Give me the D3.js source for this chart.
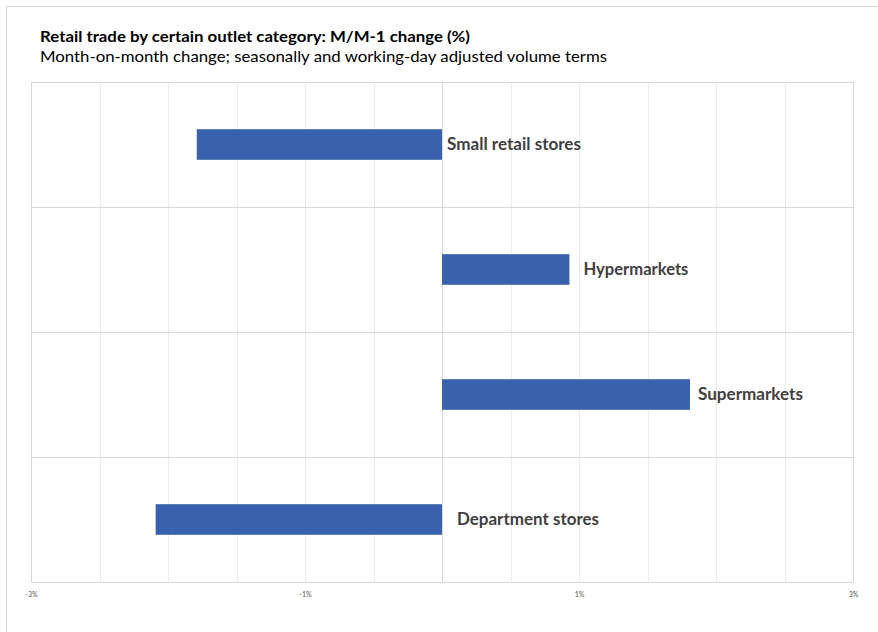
<!DOCTYPE html>
<html>
<head>
<meta charset="utf-8">
<script src="https://cdn.jsdelivr.net/npm/d3@7"></script>
<style>
  html, body { margin: 0; padding: 0; background: #fff; }
  svg { display: block; }
</style>
</head>
<body>
<svg id="chart" width="878" height="632"></svg>
<script>
// ---- data ----
const categories = ["Small retail stores", "Hypermarkets", "Supermarkets", "Department stores"];
const values = [-1.79, 0.93, 1.81, -2.09];
const tickValues = [-3, -1, 1, 3];
const tickLabels = ["-3%", "-1%", "1%", "3%"];
const gridValues = [-3, -2.5, -2, -1.5, -1, -0.5, 0, 0.5, 1, 1.5, 2, 2.5, 3];
const titleText = "Retail trade by certain outlet category: M/M-1 change (%)";
const subtitleText = "Month-on-month change; seasonally and working-day adjusted volume terms";

// ---- layout ----
const svg = d3.select("#chart");
const plot = { left: 31, right: 853, top: 82, bottom: 582 };
const labelDx = [5, 14, 8, 15];
const labelWidths = [134, 105, 105, 142];
const barColor = "#3A62AC";
const gridColor = "#D9D9D9";
const font = "Lato, 'Open Sans', 'Liberation Sans', sans-serif";

// outer frame
svg.append("rect")
  .attr("x", 6.5).attr("y", 6.5).attr("width", 900).attr("height", 700)
  .attr("fill", "none").attr("stroke", "#D9D9D9").attr("stroke-width", 1);

// titles
svg.append("text")
  .attr("x", 40).attr("y", 42)
  .attr("font-family", font).attr("font-size", 15).attr("font-weight", "bold")
  .attr("fill", "#000")
  .attr("textLength", 430).attr("lengthAdjust", "spacingAndGlyphs")
  .text(titleText);
svg.append("text")
  .attr("x", 40).attr("y", 62)
  .attr("font-family", font).attr("font-size", 15)
  .attr("fill", "#000")
  .attr("textLength", 567).attr("lengthAdjust", "spacingAndGlyphs")
  .text(subtitleText);

// scales
const x = d3.scaleLinear().domain([-3, 3]).range([plot.left, plot.right]);
const y = d3.scaleBand().domain(categories).range([plot.top, plot.bottom]).padding(0);

// vertical gridlines
svg.append("g").selectAll("line").data(gridValues).join("line")
  .attr("x1", d => Math.round(x(d)) + 0.5).attr("x2", d => Math.round(x(d)) + 0.5)
  .attr("y1", plot.top).attr("y2", plot.bottom)
  .attr("stroke", d => (d === 0 ? "#D9D9D9" : "#ECECEC")).attr("stroke-width", 1);

// horizontal gridlines at band boundaries
const hLines = categories.map(c => y(c)).concat([plot.bottom]);
svg.append("g").selectAll("line").data(hLines).join("line")
  .attr("x1", plot.left).attr("x2", plot.right)
  .attr("y1", d => Math.round(d) + 0.5).attr("y2", d => Math.round(d) + 0.5)
  .attr("stroke", gridColor).attr("stroke-width", 1);

// plot border left/right
svg.append("g").selectAll("line").data([-3, 3]).join("line")
  .attr("x1", d => Math.round(x(d)) + 0.5).attr("x2", d => Math.round(x(d)) + 0.5)
  .attr("y1", plot.top).attr("y2", plot.bottom)
  .attr("stroke", gridColor).attr("stroke-width", 1);

// bars
const barH = y.bandwidth() * 0.245;
svg.append("g").selectAll("rect").data(categories).join("rect")
  .attr("x", (c, i) => x(Math.min(0, values[i])))
  .attr("width", (c, i) => Math.abs(x(values[i]) - x(0)))
  .attr("y", c => y(c) + y.bandwidth() / 2 - barH / 2)
  .attr("height", barH)
  .attr("fill", barColor);

// category labels
svg.append("g").selectAll("text").data(categories).join("text")
  .attr("x", (c, i) => x(Math.max(0, values[i])) + labelDx[i])
  .attr("y", c => y(c) + y.bandwidth() / 2)
  .attr("dy", "0.36em")
  .attr("font-family", font).attr("font-size", 16.5).attr("font-weight", "bold")
  .attr("fill", "#404040")
  .attr("textLength", (c, i) => labelWidths[i]).attr("lengthAdjust", "spacingAndGlyphs")
  .text(c => c);

// x axis tick labels
const axis = d3.axisBottom(x).tickValues(tickValues)
  .tickFormat((d, i) => tickLabels[i]).tickSize(0).tickPadding(10);
const ax = svg.append("g").attr("transform", `translate(0,${plot.bottom})`).call(axis);
ax.select(".domain").remove();
ax.selectAll("text")
  .attr("font-family", font).attr("font-size", 7).attr("fill", "#595959");
</script>
</body>
</html>
